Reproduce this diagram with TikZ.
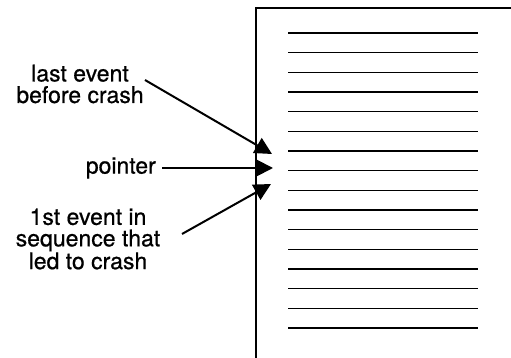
\documentclass[tikz,border=0pt]{standalone}
\usepackage{fontspec}
\setmainfont{TeX Gyre Heros}[BoldFont={TeX Gyre Heros}, BoldFeatures={FakeBold=0.7}]
\usetikzlibrary{arrows.meta}
\begin{document}
\begin{tikzpicture}[x=1pt,y=1pt,
  label text/.style={font=\fontsize{23}{21.5}\selectfont\bfseries, align=center, inner sep=0pt},
  callout/.style={line width=2pt, -{Triangle[length=17pt,width=17pt]}},
  rule/.style={line width=1.5pt}]
\useasboundingbox (0,0) rectangle (511,358);
% page frame, cut by the picture edges
\draw[line width=1.7pt] (256,0) -- (256,350) -- (512,350);
% ruled lines of the log
\foreach \i in {0,...,15}
  \draw[rule] (288,{325-19.67*\i}) -- (478,{325-19.67*\i});
% labels
\node[label text] (last) at (80,274) {last event\\before crash};
\node[label text, anchor=east] (ptr) at (156,190) {pointer};
\node[label text] (first) at (88,119) {1st event in\\sequence that\\led to crash};
% arrow ends
\coordinate (lastS) at (145,278);
\coordinate (lastT) at (272,204);
\coordinate (ptrS) at (162,190);
\coordinate (ptrT) at (273,190);
\coordinate (firstS) at (182,124);
\coordinate (firstT) at (271,174);
\draw[callout] (lastS) -- (lastT);
\draw[callout] (ptrS) -- (ptrT);
\draw[callout] (firstS) -- (firstT);
\end{tikzpicture}
\end{document}
